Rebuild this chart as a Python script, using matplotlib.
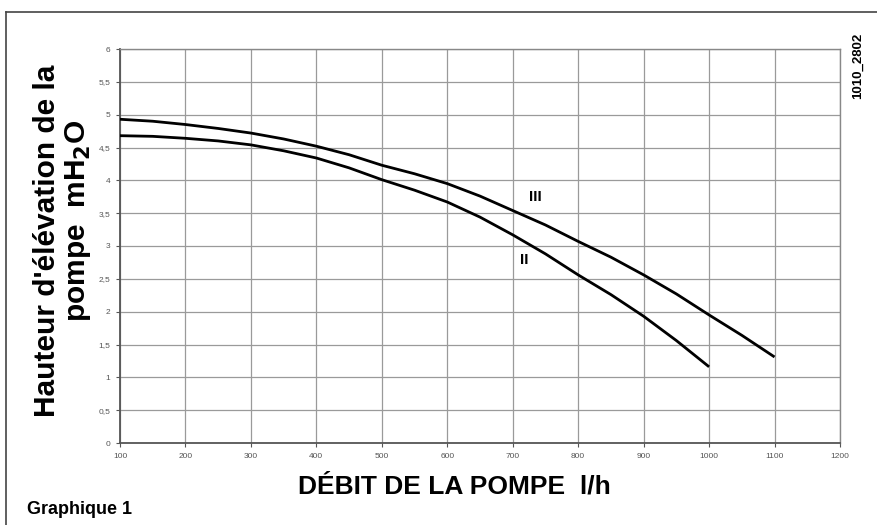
import matplotlib
matplotlib.use("Agg")
import matplotlib.pyplot as plt
from matplotlib.lines import Line2D

plt.rcParams['font.family'] = ['Liberation Sans', 'DejaVu Sans']

# Data
debit_III = [100, 150, 200, 250, 300, 350, 400, 450, 500, 550, 600, 650, 700,
             750, 800, 850, 900, 950, 1000, 1050, 1100]
hauteur_III = [4.93, 4.90, 4.85, 4.79, 4.72, 4.63, 4.52, 4.39, 4.23, 4.10, 3.95,
               3.76, 3.54, 3.32, 3.07, 2.83, 2.56, 2.27, 1.95, 1.64, 1.31]
debit_II = [100, 150, 200, 250, 300, 350, 400, 450, 500, 550, 600, 650, 700,
            750, 800, 850, 900, 950, 1000]
hauteur_II = [4.68, 4.67, 4.64, 4.60, 4.54, 4.45, 4.34, 4.19, 4.01, 3.85, 3.67,
              3.44, 3.17, 2.88, 2.56, 2.26, 1.93, 1.56, 1.16]

x_ticks = [100, 200, 300, 400, 500, 600, 700, 800, 900, 1000, 1100, 1200]
y_ticks = [0, 0.5, 1, 1.5, 2, 2.5, 3, 3.5, 4, 4.5, 5, 5.5, 6]
y_tick_labels = ["0", "0,5", "1", "1,5", "2", "2,5", "3", "3,5", "4", "4,5", "5", "5,5", "6"]

fig = plt.figure(figsize=(8.77, 5.25), dpi=100)
ax = fig.add_axes([120/877, 82/525, 720/877, 394/525])

ax.plot(debit_III, hauteur_III, color='black', lw=2.0, solid_capstyle='butt',
        solid_joinstyle='round', zorder=3)
ax.plot(debit_II, hauteur_II, color='black', lw=2.0, solid_capstyle='butt',
        solid_joinstyle='round', zorder=3)

ax.set_xlim(100, 1200)
ax.set_ylim(0, 6)
ax.set_xticks(x_ticks)
ax.set_xticklabels([str(v) for v in x_ticks])
ax.set_yticks(y_ticks)
ax.set_yticklabels(y_tick_labels)
ax.tick_params(axis='both', labelsize=6, colors='#555555', length=3, width=0.8, pad=4)
ax.grid(True, color='#9a9a9a', lw=0.9)
ax.set_axisbelow(True)
for s in ax.spines.values():
    s.set_color('#888888')
    s.set_linewidth(1.0)
ax.spines['left'].set_color('#555555')
ax.spines['bottom'].set_color('#555555')
ax.spines['left'].set_linewidth(1.3)
ax.spines['bottom'].set_linewidth(1.3)

ax.text(734, 3.75, "III", fontsize=11, fontweight='bold', ha='center', va='center')
ax.text(717, 2.79, "II", fontsize=11, fontweight='bold', ha='center', va='center')

fig.text(454/877, 1 - 487/525, "DÉBIT DE LA POMPE  l/h", fontsize=19,
         fontweight='bold', ha='center', va='center')
fig.text(47/877, 1 - 241/525, "Hauteur d'élévation de la", rotation=90, fontsize=21.5,
         fontweight='bold', ha='center', va='center')
fig.text(78/877, 1 - 221/525, "pompe  mH$_\\mathbf{2}$O", rotation=90, fontsize=21.5,
         fontweight='bold', ha='center', va='center')

fig.text(27/877, 1 - 509/525, "Graphique 1", fontsize=13, fontweight='bold', ha='left', va='center')
fig.text(858/877, 1 - 66/525, "1010_2802", rotation=90, fontsize=9.5, fontweight='bold',
         ha='center', va='center')

# Outer frame (left and top edges)
fig.add_artist(Line2D([6/877, 6/877], [0, 1 - 12/525], transform=fig.transFigure,
                      color='#444444', lw=1.2))
fig.add_artist(Line2D([6/877, 1], [1 - 12/525, 1 - 12/525], transform=fig.transFigure,
                      color='#444444', lw=1.2))

fig.savefig("out.png", dpi=100)
